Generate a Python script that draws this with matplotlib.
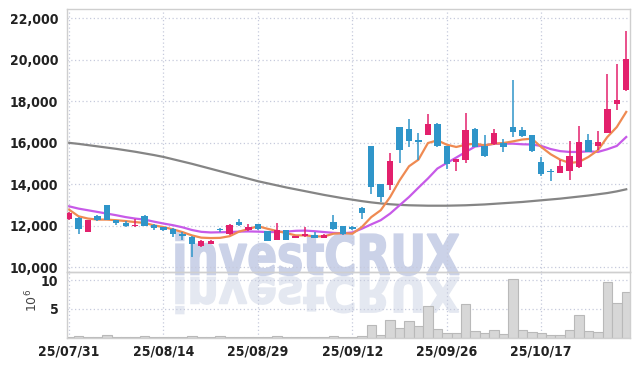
import numpy as np
import matplotlib
matplotlib.use("Agg")
import matplotlib.pyplot as plt
from matplotlib.textpath import TextPath
from matplotlib.patches import PathPatch
from matplotlib.font_manager import FontProperties
from matplotlib.transforms import Affine2D

# daily candles, 25/07/31 .. 25/10/30 (trading days only)
tick_idx = [0, 10, 20, 30, 40, 50]
tick_labels = ["25/07/31", "25/08/14", "25/08/29", "25/09/12", "25/09/26", "25/10/17"]

opens = [12350, 12400, 11700, 12470, 12990, 12260, 12130, 12000, 12470, 12060,
         11940, 11865, 11620, 11460, 11030, 11140, 11830, 11600, 12180, 11780,
         12070, 11735, 11330, 11780, 11410, 11490, 11570, 11410, 12180, 11975,
         11940, 12860, 15830, 14000, 13950, 16760, 16650, 16150, 16400, 16930,
         15830, 15080, 15180, 16650, 15850, 15930, 15990, 16760, 16640, 16360,
         15080, 14620, 14550, 14640, 14830, 16160, 15830, 16490, 17850, 18530]
closes = [12600, 11850, 12270, 12265, 12300, 12140, 12000, 12050, 11990, 11890,
          11780, 11620, 11510, 11110, 11250, 11260, 11780, 12020, 12020, 11940,
          11860, 11270, 11820, 11330, 11510, 11590, 11410, 11570, 11830, 11620,
          11850, 12620, 13870, 13390, 15110, 15640, 16070, 16030, 16930, 15830,
          14990, 15210, 16600, 15800, 15350, 16490, 15800, 16520, 16330, 15600,
          14480, 14580, 14870, 15350, 16040, 15560, 16040, 17620, 18080, 20020]
highs = [12650, 12420, 12280, 12500, 13000, 12270, 12250, 12350, 12540, 12070,
         11960, 11880, 11700, 11490, 11330, 11300, 11900, 12100, 12350, 12070,
         12100, 11740, 12140, 11800, 11520, 11940, 11700, 11590, 12500, 12000,
         12000, 12900, 15850, 14010, 15530, 16780, 17170, 16490, 17410, 16950,
         15850, 15230, 17450, 16700, 16360, 16650, 16200, 19010, 16780, 16380,
         15310, 14760, 15160, 16090, 16810, 16440, 16560, 19300, 19820, 21380]
lows = [12300, 11620, 11690, 12230, 12280, 12060, 11950, 11950, 11970, 11800,
        11760, 11460, 11300, 10500, 10980, 11120, 11700, 11580, 12000, 11760,
        11780, 11250, 11300, 11320, 11390, 11470, 11390, 11390, 11800, 11540,
        11800, 12350, 13550, 13150, 13710, 15030, 15800, 15160, 16380, 15800,
        14760, 14630, 15020, 15780, 15330, 15900, 15560, 16280, 16300, 15580,
        14390, 14150, 14530, 14190, 14780, 15540, 15640, 16450, 17600, 18500]

# volume in millions of shares
volume = [0.08, 0.3, 0.08, 0.08, 0.5, 0.08, 0.08, 0.08, 0.3, 0.08,
          0.08, 0.08, 0.08, 0.3, 0.08, 0.08, 0.3, 0.08, 0.08, 0.08,
          0.08, 0.08, 0.3, 0.08, 0.08, 0.08, 0.08, 0.08, 0.3, 0.08,
          0.1, 0.3, 2.1, 0.4, 3.1, 1.65, 2.95, 2.0, 5.4, 1.5,
          0.8, 0.8, 5.75, 1.15, 0.8, 1.3, 0.63, 10.1, 1.3, 0.97,
          0.8, 0.4, 0.4, 1.3, 3.87, 1.15, 0.97, 9.66, 6.0, 7.95]

ma5 = [12780, 12460, 12350, 12300, 12300, 12270, 12230, 12180, 12140, 12020,
       11940, 11830, 11700, 11540, 11430, 11410, 11420, 11500, 11720, 11850,
       11980, 11860, 11750, 11650, 11540, 11540, 11490, 11490, 11620, 11650,
       11620, 11940, 12420, 12750, 13390, 14190, 14870, 15190, 15990, 16120,
       15910, 15800, 15910, 15960, 15880, 15960, 15990, 16070, 16160, 16200,
       15800, 15450, 15190, 15030, 15080, 15320, 15640, 16280, 16760, 17490]
ma10 = [12940, 12830, 12750, 12670, 12590, 12510, 12420, 12350, 12300, 12200,
        12110, 12030, 11930, 11800, 11710, 11680, 11690, 11700, 11720, 11730,
        11720, 11700, 11700, 11720, 11760, 11770, 11740, 11700, 11660, 11640,
        11680, 11860, 12070, 12270, 12590, 12990, 13390, 13840, 14280, 14760,
        15030, 15290, 15560, 15820, 15880, 15950, 15960, 15960, 15930, 15920,
        15850, 15700, 15600, 15560, 15560, 15590, 15560, 15690, 15850, 16280]
ma_long = [16000, 15950, 15890, 15830, 15770, 15710, 15640, 15570, 15490, 15410,
           15320, 15210, 15100, 14990, 14870, 14750, 14630, 14510, 14390, 14270,
           14150, 14050, 13950, 13850, 13760, 13670, 13580, 13490, 13410, 13330,
           13260, 13190, 13130, 13080, 13040, 13010, 12990, 12980, 12970, 12970,
           12970, 12980, 12990, 13010, 13030, 13060, 13090, 13120, 13150, 13190,
           13230, 13270, 13310, 13360, 13410, 13460, 13520, 13580, 13660, 13760]

UP = "#e3206c"
DOWN = "#2f95c9"
GRID = "#c6cadc"
SPINE = "#cfcfcf"

W, H = 639, 366
fig = plt.figure(figsize=(W / 100, H / 100), dpi=100)
fig.patch.set_facecolor("white")

ax = fig.add_axes([66.7 / W, 1 - 272.3 / H, (630 - 66.7) / W, (272.3 - 9) / H])
axv = fig.add_axes([66.7 / W, 1 - 337.5 / H, (630 - 66.7) / W, (337.5 - 272.3) / H], sharex=ax)
for a in (ax, axv):
    a.set_facecolor("none")

tick_font = FontProperties(family="DejaVu Sans", stretch="condensed", weight="bold", size=10)

# watermark and its reflection, drawn behind both panels
tp = TextPath((0, 0), "investCRUX", size=100, prop=FontProperties(family="DejaVu Sans", weight="bold"))
bb = tp.get_extents()
sx = 283 / bb.width
tr = Affine2D().translate(-bb.x0, 0).scale(sx, 42 / bb.y1).translate(176, H - 274.5).scale(1 / W, 1 / H)
fig.patches.append(PathPatch(tp, transform=tr + fig.transFigure, facecolor="#cbd2e8",
                             edgecolor="#cbd2e8", lw=1.2, zorder=-1))
tr2 = Affine2D().translate(-bb.x0, 0).scale(sx, -36 / bb.y1).translate(176, H - 277.5).scale(1 / W, 1 / H)
fig.patches.append(PathPatch(tp, transform=tr2 + fig.transFigure, facecolor="#e4e8f1",
                             edgecolor="#e4e8f1", lw=1.2, zorder=-1))

x = np.arange(len(closes))
o = np.array(opens)
c = np.array(closes)
colors = [UP if cc >= oo else DOWN for oo, cc in zip(o, c)]

ax.plot(x, ma_long, color="#858585", lw=1.6, zorder=2)
ax.plot(x, ma10, color="#c75ae8", lw=1.6, zorder=2)
ax.plot(x, ma5, color="#ef8a52", lw=1.6, zorder=2)

ax.vlines(x, lows, highs, colors=colors, lw=1.1, zorder=3)
body = np.maximum(np.abs(c - o), 40)
ax.bar(x, body, bottom=np.minimum(o, c), width=0.68, color=colors, zorder=4)

axv.bar(x, volume, width=1.0, color="#d7d7d7", edgecolor="#b9b9b9", lw=0.8, zorder=2)

ax.set_xlim(-0.25, 59.4)
ax.set_ylim(9760, 22450)
axv.set_ylim(0, 11.35)

ax.set_yticks(range(10000, 22001, 2000))
ax.set_yticklabels([f"{v:,}" for v in range(10000, 22001, 2000)])
axv.set_yticks([5, 10])
axv.set_yticklabels(["5", "10"])
axv.set_xticks(tick_idx)
axv.set_xticklabels(tick_labels)

for a in (ax, axv):
    a.grid(True, ls=(0, (1, 2)), color=GRID, lw=0.9, zorder=0)
    a.tick_params(length=0, pad=6, colors="#222222")
    for lab in a.get_yticklabels() + a.get_xticklabels():
        lab.set_fontproperties(tick_font)
    for s in a.spines.values():
        s.set_color(SPINE)
        s.set_linewidth(1.0)
ax.tick_params(axis="x", labelbottom=False)
axv.tick_params(axis="x", pad=5)

fig.text(32 / W, 1 - 300 / H, r"$10^6$", rotation=90, ha="center", va="center",
         fontsize=9, color="#444444", family="DejaVu Serif")

fig.savefig("out.png", dpi=100)
